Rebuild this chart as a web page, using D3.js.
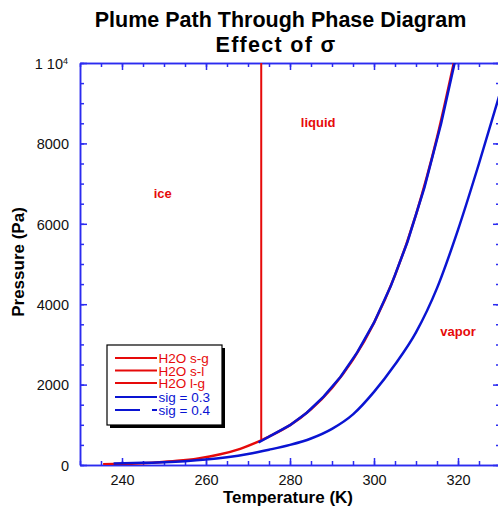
<!DOCTYPE html>
<html><head><meta charset="utf-8">
<script src="https://cdn.jsdelivr.net/npm/d3@7"></script>
<style>
html,body{margin:0;padding:0;background:#fff;}
svg{display:block;font-family:"Liberation Sans",Arial,Helvetica,sans-serif;}
</style></head>
<body>
<script>
// ---- data (Temperature K, Pressure Pa) ----
const iceT   = [235.5, 238.15, 243.15, 248.15, 253.15, 258.15, 263.15, 268.15, 273.15];
const iceP   = [18, 22, 38, 63, 103, 165, 260, 402, 611];
const liqT   = [273.15, 275, 280, 285, 290, 295, 300, 305, 310, 315, 319.2];
const liqP   = [611, 706, 991, 1388, 1919, 2620, 3536, 4718, 6230, 8143, 10100];
const meltT  = [273.15, 273.15];
const meltP  = [611, 10000];
const sig3T  = [272.5, 276, 280, 284, 288, 292, 296, 300, 304, 308, 312, 316, 319.3];
const sig3P  = [560, 760, 990, 1300, 1700, 2190, 2800, 3540, 4450, 5560, 6900, 8500, 10050];
const sig4T  = [238, 245, 250, 255, 260, 265, 270, 275, 280, 285, 290, 295, 300, 305, 310, 315, 320, 325, 330];
const sig4P  = [40, 55, 70, 95, 135, 195, 275, 380, 500, 660, 900, 1260, 1820, 2500, 3300, 4400, 5850, 7500, 9250];
const xMajor = [240, 260, 280, 300, 320];
const yMajor = [0, 2000, 4000, 6000, 8000, 10000];
const yLabels = ["0", "2000", "4000", "6000", "8000", "1 10|4"];
const legendNames = ["H2O s-g", "H2O s-l", "H2O l-g", "sig = 0.3", "sig = 0.4"];
const regionNames = ["ice", "liquid", "vapor"];
const regionT = [249.7, 286.7, 320];
const regionP = [6640, 8410, 3210];

const W = 498, H = 509;
const RED = "#e60a0a", BLUE = "#0a14d2", AX = "#2b2bf0";
const svg = d3.select("body").append("svg").attr("width", W).attr("height", H);

const x = d3.scaleLinear().domain([230, 330]).range([80, 500]);
const y = d3.scaleLinear().domain([0, 10000]).range([465, 63]);

// clip
svg.append("clipPath").attr("id", "clip").append("rect")
  .attr("x", 80).attr("y", 63).attr("width", 420).attr("height", 402);

// titles
svg.append("text").attr("x", 280.5).attr("y", 26.5).attr("text-anchor", "middle")
  .attr("font-size", 21.5).attr("font-weight", "bold").attr("fill", "#000")
  .text("Plume Path Through Phase Diagram");
svg.append("text").attr("x", 276).attr("y", 51.5).attr("text-anchor", "middle")
  .attr("font-size", 21.5).attr("font-weight", "bold").attr("fill", "#000")
  .attr("letter-spacing", 1.3)
  .text("Effect of σ");

// axes
const xMinor = d3.range(230, 331, 5);
const yMinor = d3.range(0, 10001, 500);
function styleAxis(g) {
  g.select(".domain").attr("stroke", AX).attr("stroke-width", 1.5);
  g.selectAll(".tick line").attr("stroke", AX).attr("stroke-width", 1.5);
}
// bottom
svg.append("g").attr("transform", "translate(0,465)")
  .call(d3.axisBottom(x).tickValues(xMinor).tickSize(-4).tickFormat("").tickSizeOuter(0)).call(styleAxis);
const gxb = svg.append("g").attr("transform", "translate(0,465)")
  .call(d3.axisBottom(x).tickValues(xMajor).tickSize(-7).tickSizeOuter(0).tickPadding(0)).call(styleAxis);
gxb.selectAll(".tick text").attr("y", 10).attr("font-size", 14.5).attr("fill", "#111")
  .attr("font-family", "'Liberation Sans',Arial,sans-serif");
// top
svg.append("g").attr("transform", "translate(0,63)")
  .call(d3.axisTop(x).tickValues(xMinor).tickSize(-4).tickFormat("").tickSizeOuter(0)).call(styleAxis);
svg.append("g").attr("transform", "translate(0,63)")
  .call(d3.axisTop(x).tickValues(xMajor).tickSize(-7).tickFormat("").tickSizeOuter(0)).call(styleAxis);
// left
svg.append("g").attr("transform", "translate(80,0)")
  .call(d3.axisLeft(y).tickValues(yMinor).tickSize(-4).tickFormat("").tickSizeOuter(0)).call(styleAxis);
const gyl = svg.append("g").attr("transform", "translate(80,0)")
  .call(d3.axisLeft(y).tickValues(yMajor).tickSize(-7).tickSizeOuter(0).tickFormat(""))
  .call(styleAxis);
gyl.selectAll(".tick").each(function(d, i) {
  const t = d3.select(this).append("text").attr("x", -11).attr("dy", "0.36em")
    .attr("text-anchor", "end").attr("font-size", 14.5).attr("fill", "#111");
  const parts = yLabels[i].split("|");
  t.append("tspan").text(parts[0]);
  if (parts[1]) {
    t.attr("x", -12);
    t.append("tspan").attr("font-size", 9).attr("dy", "-0.55em").text(parts[1]);
  }
});
// right
svg.append("g").attr("transform", "translate(500,0)")
  .call(d3.axisRight(y).tickValues(yMinor).tickSize(-4).tickFormat("").tickSizeOuter(0)).call(styleAxis);
svg.append("g").attr("transform", "translate(500,0)")
  .call(d3.axisRight(y).tickValues(yMajor).tickSize(-7).tickFormat("").tickSizeOuter(0)).call(styleAxis);

// axis titles
svg.append("text").attr("x", 288).attr("y", 503).attr("text-anchor", "middle")
  .attr("font-size", 17).attr("font-weight", "bold").attr("fill", "#000").text("Temperature (K)");
svg.append("text").attr("transform", "translate(24,262) rotate(-90)").attr("text-anchor", "middle")
  .attr("font-size", 17).attr("font-weight", "bold").attr("fill", "#000").text("Pressure (Pa)");

// curves
const line = d3.line().x(d => x(d[0])).y(d => y(d[1])).curve(d3.curveMonotoneX);
const straight = d3.line().x(d => x(d[0])).y(d => y(d[1]));
const zipd = (a, b) => a.map((v, i) => [v, b[i]]);
const plot = svg.append("g").attr("clip-path", "url(#clip)");
plot.append("path").datum(zipd(iceT, iceP)).attr("d", line).attr("fill", "none").attr("stroke", RED).attr("stroke-width", 2.5);
plot.append("path").datum(zipd(meltT, meltP)).attr("d", straight).attr("fill", "none").attr("stroke", RED).attr("stroke-width", 2);
plot.append("path").datum(zipd(liqT, liqP)).attr("d", line).attr("fill", "none").attr("stroke", RED).attr("stroke-width", 2.5);
plot.append("path").datum(zipd(sig3T, sig3P)).attr("d", straight).attr("fill", "none").attr("stroke", BLUE).attr("stroke-width", 2.5);
plot.append("path").datum(zipd(sig4T, sig4P)).attr("d", line).attr("fill", "none").attr("stroke", BLUE).attr("stroke-width", 2.5);

// region labels
regionNames.forEach((n, i) => {
  svg.append("text").attr("x", x(regionT[i])).attr("y", y(regionP[i])).attr("text-anchor", "middle")
    .attr("font-size", 13).attr("font-weight", "bold").attr("fill", RED).text(n);
});

// legend
const lg = svg.append("g");
lg.append("rect").attr("x", 110).attr("y", 348).attr("width", 115).attr("height", 80).attr("fill", "#000");
lg.append("rect").attr("x", 107).attr("y", 345).attr("width", 115).attr("height", 80)
  .attr("fill", "#fff").attr("stroke", "#000").attr("stroke-width", 1.2);
const legColors = [RED, RED, RED, BLUE, BLUE];
const legY = [358, 370.5, 383, 397, 410];
legendNames.forEach((n, i) => {
  lg.append("line").attr("x1", 115).attr("x2", 157).attr("y1", legY[i]).attr("y2", legY[i])
    .attr("stroke", legColors[i]).attr("stroke-width", 2)
    .attr("stroke-dasharray", i === 4 ? "25,12" : null);
  lg.append("text").attr("x", 158.5).attr("y", legY[i] + 5).attr("font-size", 13.5)
    .attr("fill", legColors[i]).text(n);
});
</script>
</body></html>
